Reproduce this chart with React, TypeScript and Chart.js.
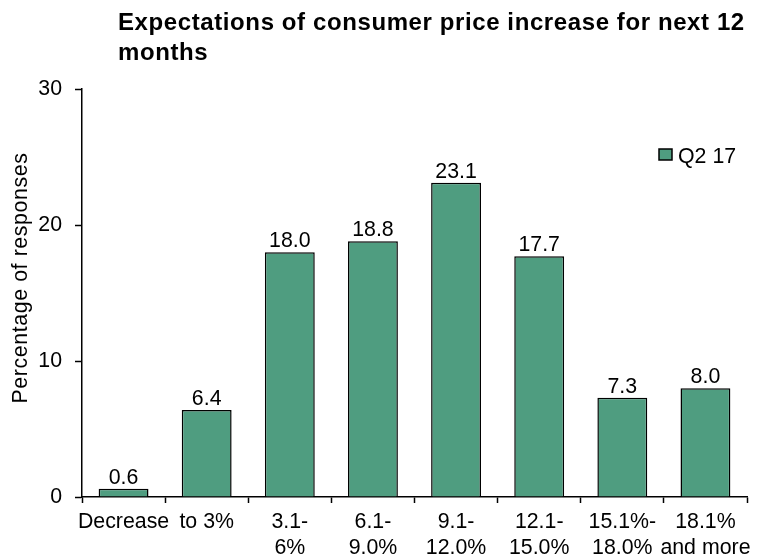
import React, { useEffect, useRef } from "react";
import { Chart, registerables } from "chart.js";

Chart.register(...registerables);

const titleLines = ["Expectations of consumer price increase for next 12", "months"];
const categories: (string | string[])[] = [
  "Decrease",
  "to 3%",
  ["3.1-", "6%"],
  ["6.1-", "9.0%"],
  ["9.1-", "12.0%"],
  ["12.1-", "15.0%"],
  ["15.1%-", "18.0%"],
  ["18.1%", "and more"],
];
const seriesLabel = "Q2 17";
const seriesValues = [0.6, 6.4, 18.0, 18.8, 23.1, 17.7, 7.3, 8.0];
const yAxisTitle = "Percentage of responses";
const yMin = 0;
const yMax = 30;
const yStep = 10;

const FONT = "'Liberation Sans', Arial, sans-serif";
const BAR_COLOR = "#4F9D80";

const titlePlugin = {
  id: "customTitle",
  afterDraw(chart: any) {
    const ctx = chart.ctx;
    ctx.save();
    ctx.fillStyle = "#000";
    ctx.font = `bold 24px ${FONT}`;
    (ctx as any).letterSpacing = "0.6px";
    ctx.textAlign = "left";
    ctx.textBaseline = "alphabetic";
    titleLines.forEach((line, i) => {
      ctx.fillText(line, 118, 30 + i * 30);
    });
    ctx.restore();
  },
};

const yTitlePlugin = {
  id: "yTitle",
  afterDraw(chart: any) {
    const ctx = chart.ctx;
    ctx.save();
    ctx.fillStyle = "#000";
    ctx.font = `21.33px ${FONT}`;
    (ctx as any).letterSpacing = "0.6px";
    ctx.textAlign = "center";
    ctx.textBaseline = "middle";
    ctx.translate(21, 278);
    ctx.rotate(-Math.PI / 2);
    ctx.fillText(yAxisTitle, 0, 0);
    ctx.restore();
  },
};

const dataLabelPlugin = {
  id: "dataLabels",
  afterDatasetsDraw(chart: any) {
    const ctx = chart.ctx;
    const meta = chart.getDatasetMeta(0);
    const data = chart.data.datasets[0].data as number[];
    ctx.save();
    ctx.fillStyle = "#000";
    ctx.font = `21.33px ${FONT}`;
    ctx.textAlign = "center";
    ctx.textBaseline = "alphabetic";
    meta.data.forEach((el: any, i: number) => {
      ctx.fillText(Number(data[i]).toFixed(1), el.x, el.y - 5);
    });
    ctx.restore();
  },
};

const legendPlugin = {
  id: "customLegend",
  afterDraw(chart: any) {
    const ctx = chart.ctx;
    const ds = chart.data.datasets[0];
    ctx.save();
    ctx.fillStyle = ds.backgroundColor;
    ctx.fillRect(659, 149, 13, 11);
    ctx.strokeStyle = "#000";
    ctx.lineWidth = 1.5;
    ctx.strokeRect(659, 149, 13, 11);
    ctx.fillStyle = "#000";
    ctx.font = `21.33px ${FONT}`;
    ctx.textAlign = "left";
    ctx.textBaseline = "alphabetic";
    ctx.fillText(ds.label, 678, 163);
    ctx.restore();
  },
};

export default function App() {
  const canvasRef = useRef<HTMLCanvasElement | null>(null);

  useEffect(() => {
    document.body.style.margin = "0";
    const canvas = canvasRef.current;
    if (!canvas) return;
    const chart = new Chart(canvas, {
      type: "bar",
      data: {
        labels: categories as any,
        datasets: [
          {
            label: seriesLabel,
            data: seriesValues,
            backgroundColor: BAR_COLOR,
            borderColor: "#000",
            borderWidth: 1.5,
            barPercentage: 0.6,
            categoryPercentage: 1.0,
          },
        ],
      },
      options: {
        responsive: false,
        animation: false,
        devicePixelRatio: 1,
        layout: { padding: { left: 0, right: 16, top: 89, bottom: 0 } },
        plugins: {
          legend: { display: false },
          title: { display: false },
          tooltip: { enabled: false },
        },
        scales: {
          x: {
            offset: true,
            grid: {
              display: true,
              offset: true,
              drawOnChartArea: false,
              drawTicks: true,
              tickLength: 6,
              tickWidth: 1.5,
              tickColor: "#000",
              color: "#000",
            },
            border: { display: true, color: "#000", width: 1.5 },
            ticks: {
              color: "#000",
              font: { family: FONT, size: 21.33, lineHeight: 1.22 },
              maxRotation: 0,
              minRotation: 0,
              autoSkip: false,
              padding: 6,
            },
            afterFit: (s: any) => {
              s.height = 63;
            },
          },
          y: {
            min: yMin,
            max: yMax,
            ticks: {
              stepSize: yStep,
              color: "#000",
              font: { family: FONT, size: 21.33 },
              padding: 13,
            },
            grid: {
              display: true,
              drawOnChartArea: false,
              drawTicks: true,
              tickLength: 7,
              tickWidth: 1.5,
              tickColor: "#000",
              color: "#000",
            },
            border: { display: true, color: "#000", width: 1.5 },
            title: { display: false },
            afterFit: (s: any) => {
              s.width = 82;
            },
          },
        },
      },
      plugins: [titlePlugin, yTitlePlugin, dataLabelPlugin, legendPlugin],
    });
    return () => chart.destroy();
  }, []);

  return (
    <div style={{ width: 763, height: 560, background: "#fff" }}>
      <canvas ref={canvasRef} width={763} height={560} style={{ display: "block" }} />
    </div>
  );
}
